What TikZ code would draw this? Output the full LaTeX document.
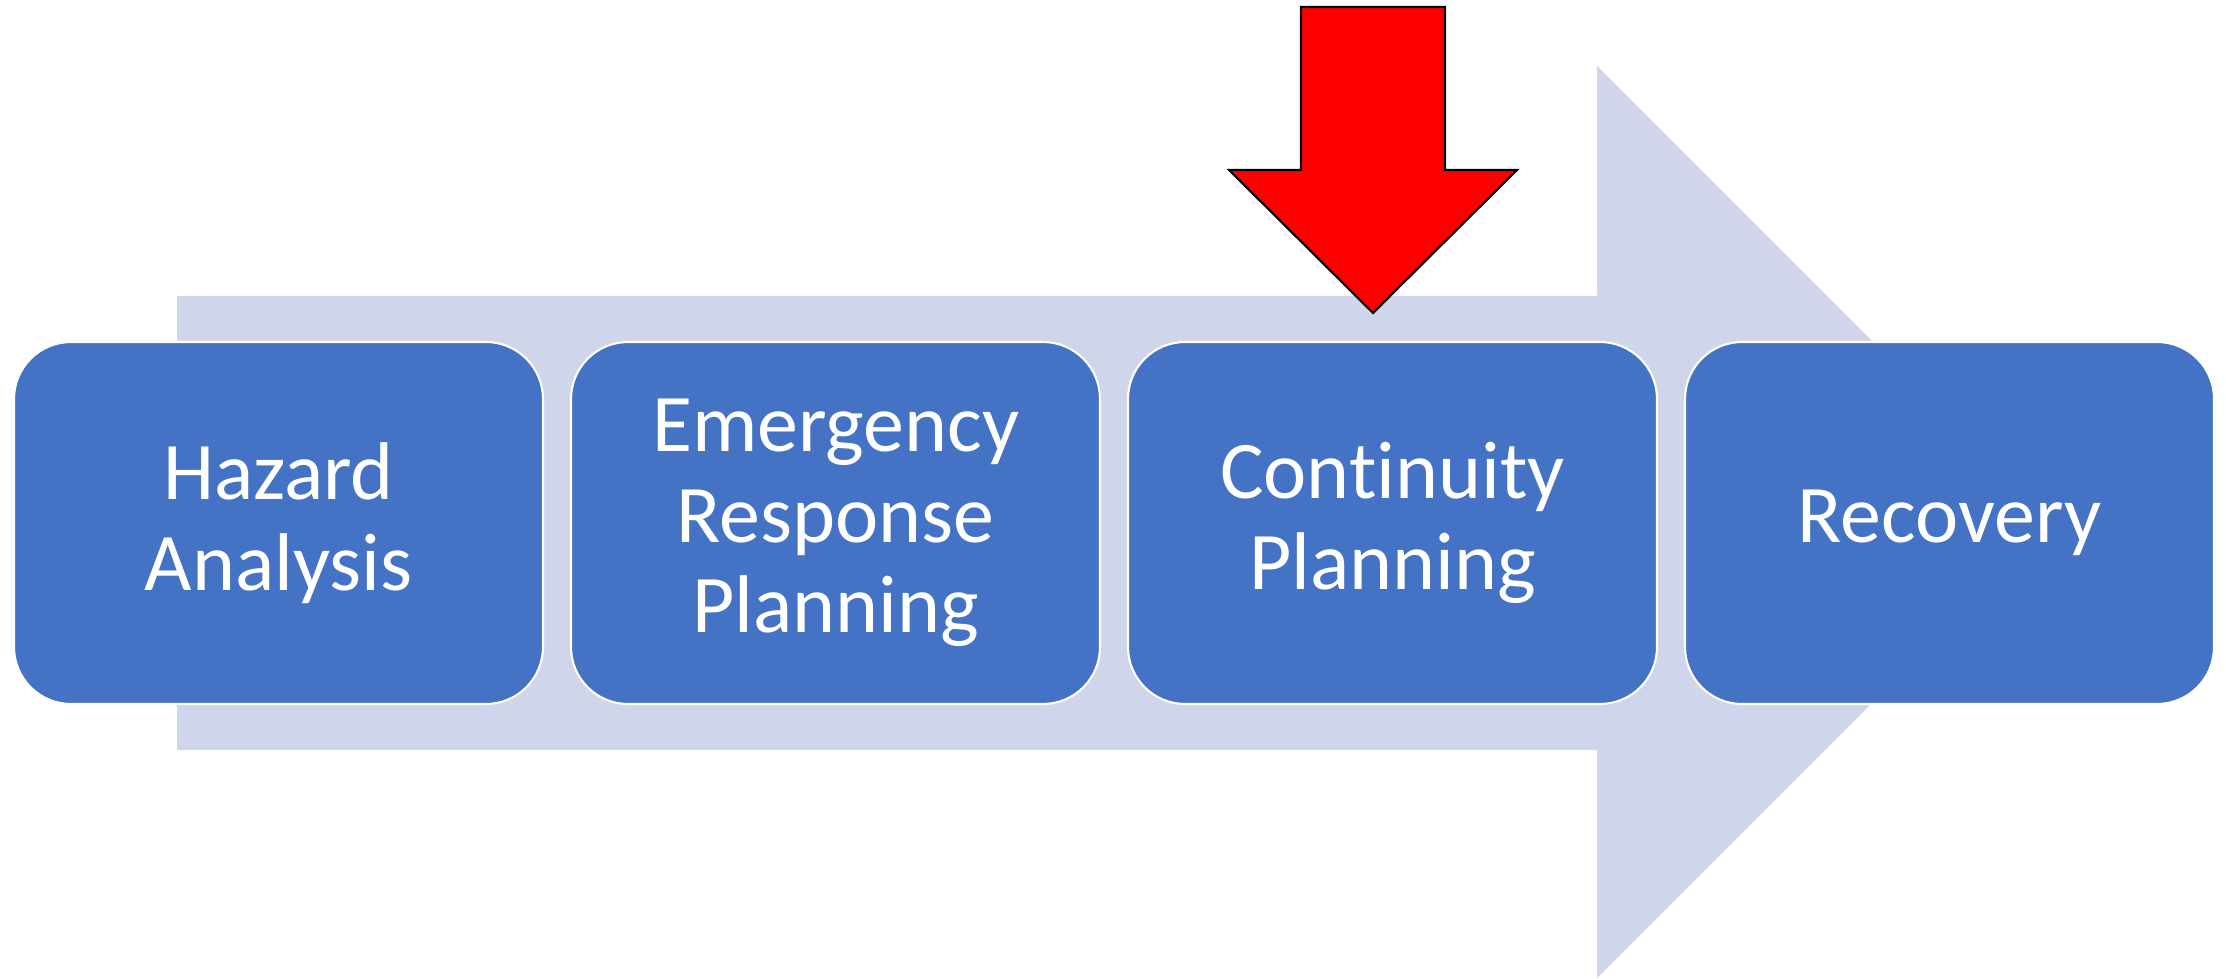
\documentclass[tikz,border=0pt]{standalone}
\usepackage{fontspec}
\setmainfont{Carlito}[Ligatures=NoCommon]
\usepackage{tikz}

\definecolor{stageblue}{HTML}{4472C4}
\definecolor{flowgray}{HTML}{CFD5EA}

\begin{document}
\begin{tikzpicture}[
    stage/.style={rectangle, rounded corners=0.57cm, draw=white, line width=0.6pt, fill=stageblue,
        text=white, minimum width=5.29cm, minimum height=3.62cm, text width=5cm, align=center,
        font=\fontsize{23.3}{25.8}\selectfont}
]
    \useasboundingbox (0,0) rectangle (22.26,9.78);

    % Draw the wide flow arrow first (will be behind the stages)
    \fill[flowgray] (1.77,2.28) -- (15.97,2.28) -- (15.97,0) -- (20.53,4.56)
        -- (15.97,9.12) -- (15.97,6.82) -- (1.77,6.82) -- cycle;

    % The four stages
    \node[stage] (hazard) at (2.785,4.55) {Hazard\\Analysis};
    \node[stage] (emergency) at (8.355,4.55) {Emergency\\Response\\Planning};
    \node[stage] (continuity) at (13.925,4.55) {Continuity\\Planning};
    \node[stage] (recovery) at (19.495,4.55) {Recovery};

    % Red marker arrow on top
    \draw[fill=red, line width=0.6pt] (13.01,9.71) -- (14.45,9.71) -- (14.45,8.08) -- (15.17,8.08)
        -- (13.73,6.65) -- (12.29,8.08) -- (13.01,8.08) -- cycle;
\end{tikzpicture}
\end{document}
